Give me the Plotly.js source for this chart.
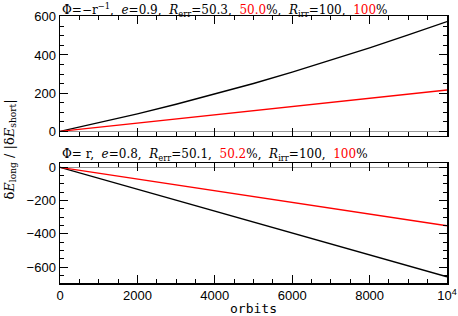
<!DOCTYPE html>
<html><head><meta charset="utf-8">
<script src="https://cdn.plot.ly/plotly-3.0.1.min.js"></script>
<style>html,body{margin:0;padding:0;background:#fff}#c{width:458px;height:316px}</style>
</head><body><div id="c"></div>
<script>
const orbits = [0,1000,2000,3000,4000,5000,6000,7000,8000,9000,10000];
const topBlack = [0,44.5,91.8,142,195,251,310,372,437,505,575];
const topRed = [0,21.7,43.4,65,87,108,130,152,174,195,217];
const botBlack = [0,-66,-132,-198,-264,-330,-395,-461,-527,-593,-659];
const botRed = [0,-35,-70,-105,-140,-175,-210,-245,-280,-315,-352];
const xTickVals = [0,2000,4000,6000,8000,10000];
const xTickText = ['0','2000','4000','6000','8000','10<sup>4</sup>'];
const topLabel = "Φ=−r<sup>−1</sup>,  <i>e</i>=0.9,  <i>R</i><sub>err</sub>=50.3,  <span style='color:red'>50.0</span>%,  <i>R</i><sub>irr</sub>=100,  <span style='color:red'>100</span>%";
const botLabel = "Φ= r,  <i>e</i>=0.8,  <i>R</i><sub>err</sub>=50.1,  <span style='color:red'>50.2</span>%,  <i>R</i><sub>irr</sub>=100,  <span style='color:red'>100</span>%";
const yTitle = "δ<i>E</i><sub>long</sub> / |δ<i>E</i><sub>short</sub>|";

const ln = (c)=>({color:c,width:1.4});
const traces = [
  {x:orbits,y:topBlack,xaxis:'x2',yaxis:'y2',mode:'lines',line:ln('black')},
  {x:orbits,y:topRed,xaxis:'x2',yaxis:'y2',mode:'lines',line:ln('red')},
  {x:orbits,y:botBlack,xaxis:'x',yaxis:'y',mode:'lines',line:ln('black')},
  {x:orbits,y:botRed,xaxis:'x',yaxis:'y',mode:'lines',line:ln('red')}
];
const tf = {family:'Liberation Sans, Arial, sans-serif',size:13,color:'black'};
const axBase = {showgrid:false,showline:true,linecolor:'black',linewidth:1.5,mirror:'allticks',
  ticks:'inside',ticklen:8,tickwidth:1,tickcolor:'black',tickfont:tf};
const xax = Object.assign({},axBase,{range:[0,10000],tickvals:xTickVals,ticktext:xTickText,
  minor:{dtick:500,ticklen:4,ticks:'inside',tickcolor:'black'},zeroline:false});
const layout = {
  width:458,height:316,showlegend:false,paper_bgcolor:'white',plot_bgcolor:'white',
  margin:{l:60,r:11,t:16,b:33},
  xaxis:Object.assign({},xax,{anchor:'y',domain:[0,1],
    title:{text:'orbits',font:{family:'DejaVu Sans Mono, monospace',size:13,color:'black'},standoff:2}}),
  xaxis2:Object.assign({},xax,{anchor:'y2',showticklabels:false,matches:'x'}),
  yaxis:Object.assign({},axBase,{domain:[0,0.4494],range:[-696,26],dtick:200,
    minor:{dtick:50,ticklen:4,ticks:'inside',tickcolor:'black'},zeroline:true,zerolinecolor:'#999',zerolinewidth:1}),
  yaxis2:Object.assign({},axBase,{domain:[0.5506,1],range:[-24,604],dtick:200,
    minor:{dtick:50,ticklen:4,ticks:'inside',tickcolor:'black'},zeroline:true,zerolinecolor:'#999',zerolinewidth:1}),
  annotations:[
    {text:topLabel,xref:'paper',yref:'paper',x:0.0,y:1.0,xanchor:'left',yanchor:'bottom',showarrow:false,
     xshift:0,yshift:-5,font:{family:'DejaVu Serif, serif',size:12,color:'black'}},
    {text:botLabel,xref:'paper',yref:'paper',x:0.0,y:0.4494,xanchor:'left',yanchor:'bottom',showarrow:false,
     yshift:-2,font:{family:'DejaVu Serif, serif',size:12,color:'black'}},
    {text:yTitle,xref:'paper',yref:'paper',x:0,y:0.5,xanchor:'center',yanchor:'middle',textangle:-90,
     xshift:-50,showarrow:false,font:{family:'DejaVu Serif, serif',size:13,color:'black'}}
  ]
};
Plotly.newPlot('c',traces,layout,{staticPlot:true,displayModeBar:false});
</script></body></html>
